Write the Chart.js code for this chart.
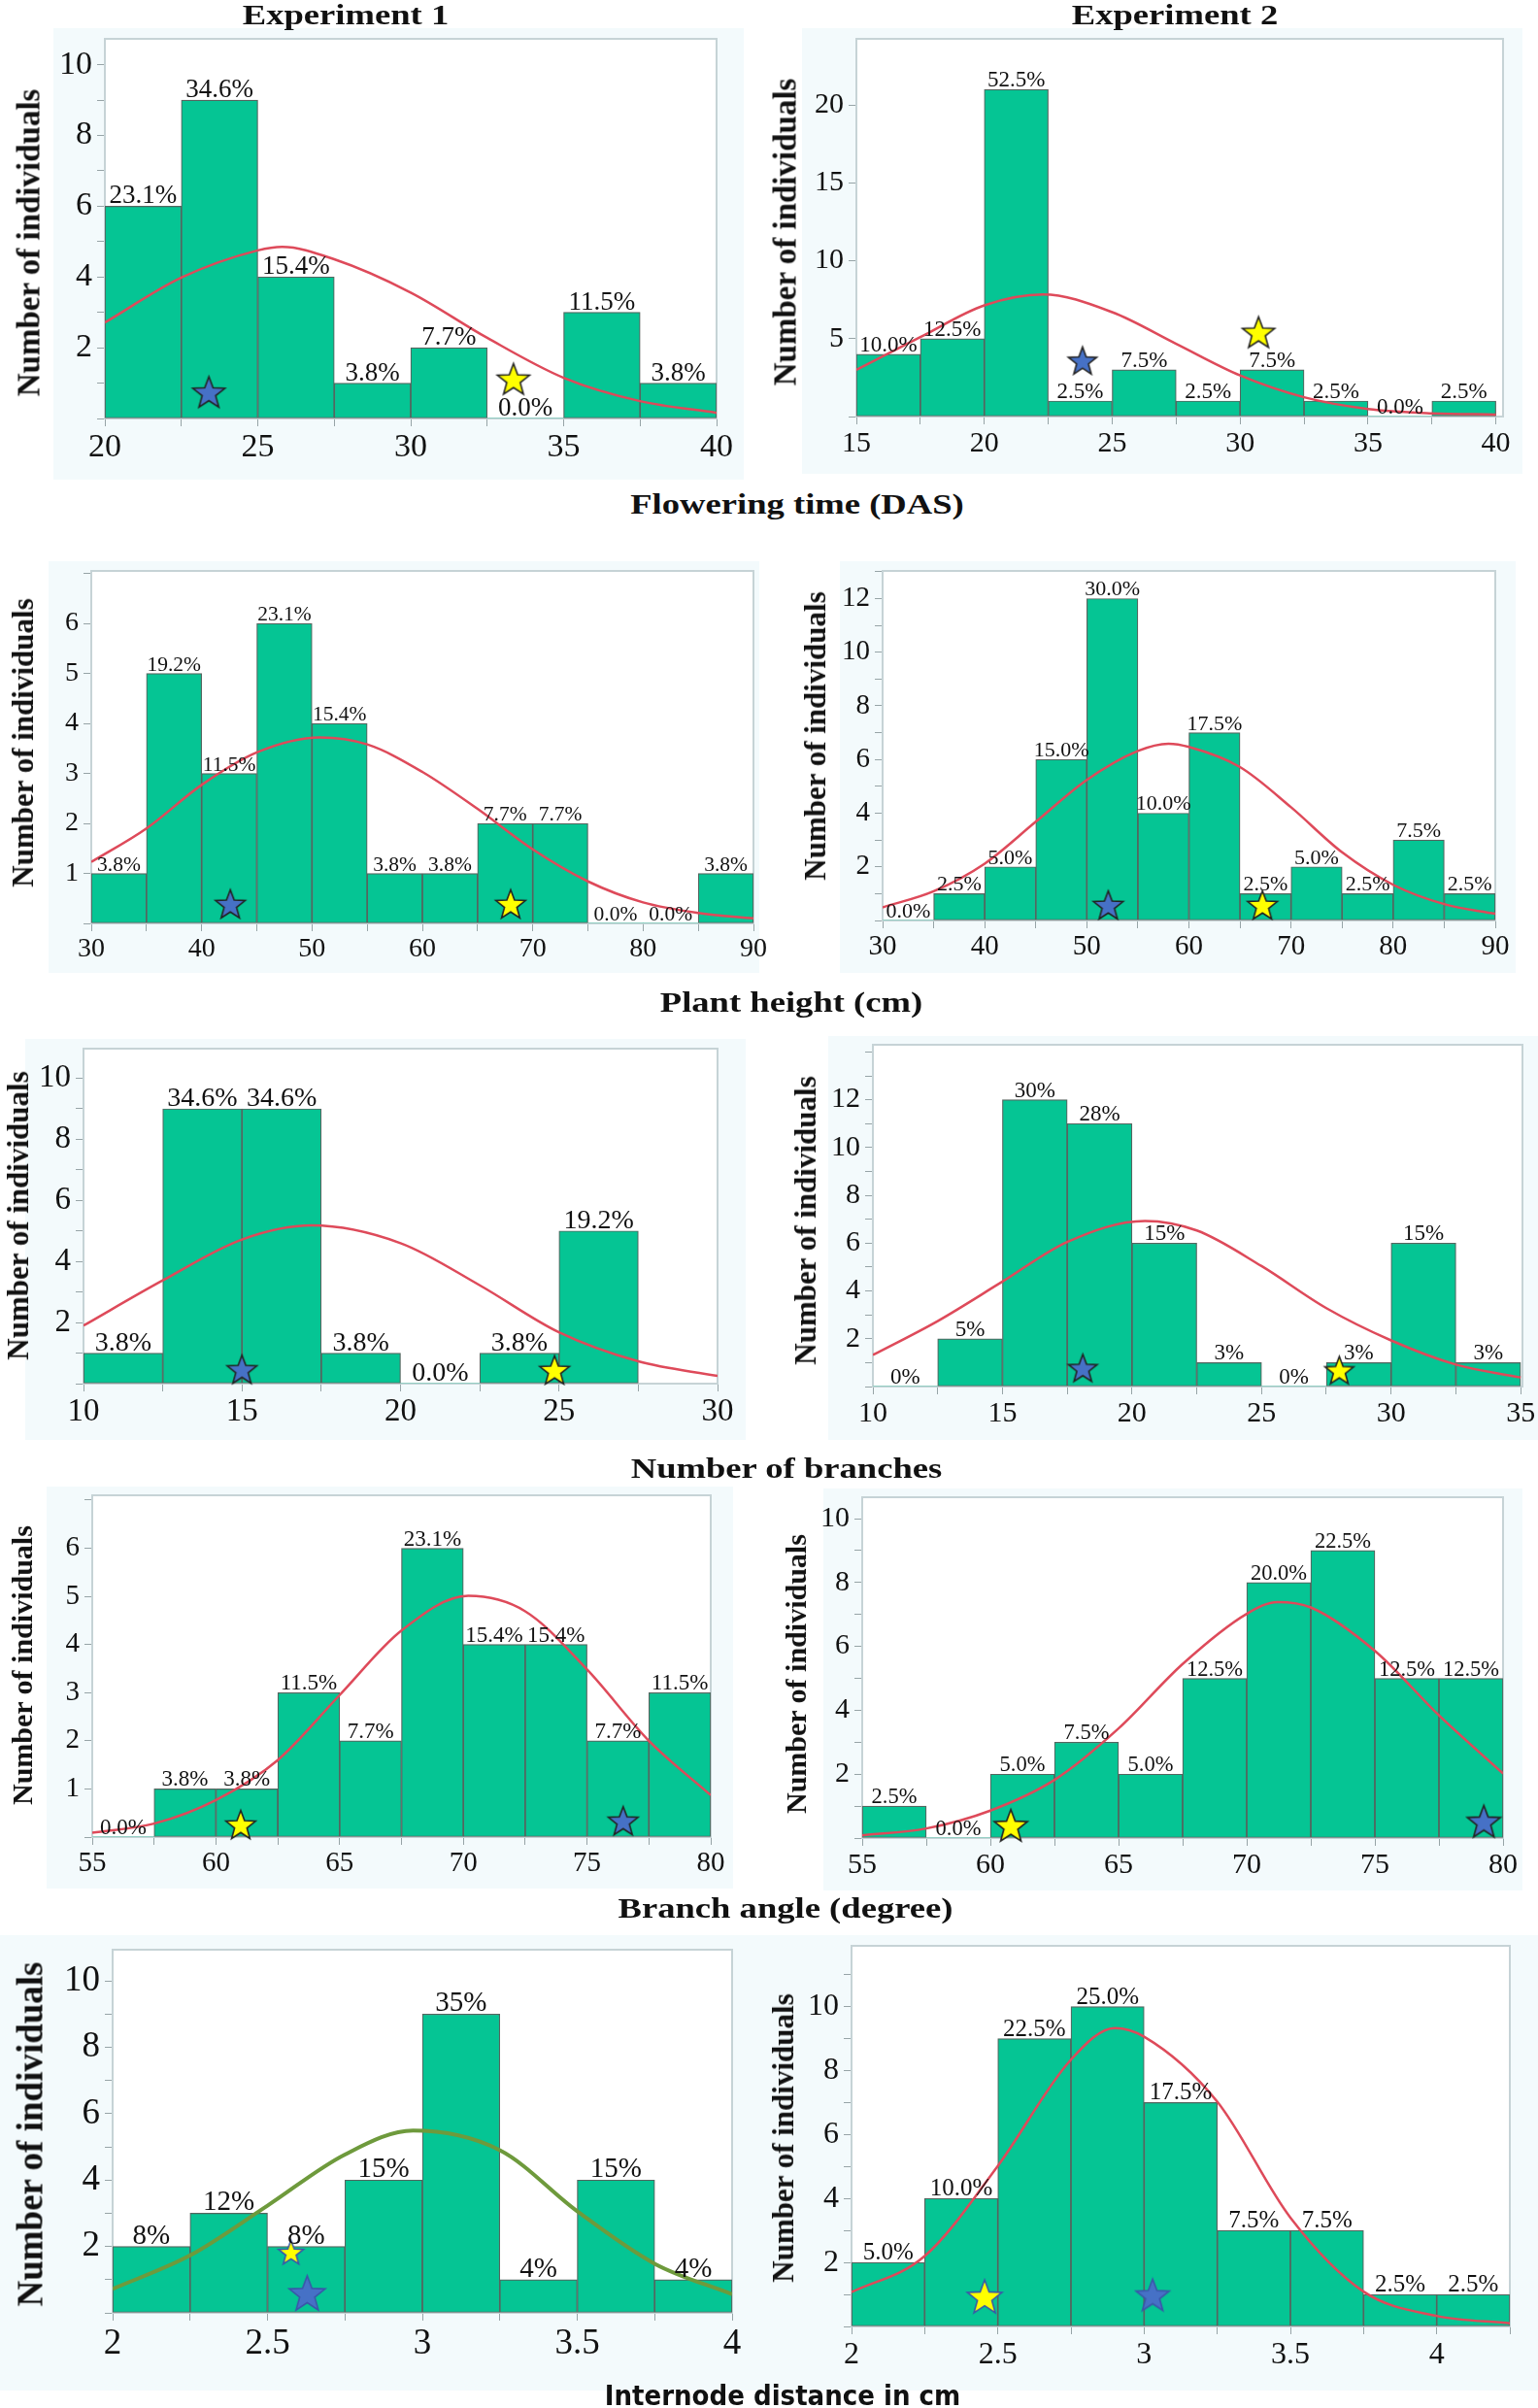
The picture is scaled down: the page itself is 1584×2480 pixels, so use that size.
<!DOCTYPE html>
<html>
<head>
<meta charset="utf-8">
<script src="https://cdn.jsdelivr.net/npm/chart.js@4.4.1/dist/chart.umd.min.js"></script>
<style>
  body { margin: 0; background: #fff; }
  #fig { position: relative; width: 1584px; height: 2480px; overflow: hidden; }
  .bg { position: absolute; background: #f3fafc; }
  .cv { position: absolute; }
  .ytitle { position: absolute; font-family: 'Liberation Serif', serif; font-weight: bold; white-space: nowrap;
            transform: translate(-50%, -50%) rotate(-90deg); color: #111; }
  .title { position: absolute; font-family: 'Liberation Serif', serif; font-weight: bold; white-space: nowrap;
           transform: translate(-50%, -50%) scaleX(1.22); color: #111; font-size: 30px; }
  .sans { font-family: 'DejaVu Sans Condensed', 'DejaVu Sans', sans-serif; transform: translate(-50%, -50%); font-size: 29px; }
</style>
</head>
<body>
<div id="fig"></div>
<script>
// ---- data (bin centres, counts, % labels, fitted curve, stars [blue, yellow]) ----

// Flowering time (DAS), experiment 1
const flowerBins1 = [21.25, 23.75, 26.25, 28.75, 31.25, 33.75, 36.25, 38.75];
const flowerCounts1 = [6, 9, 4, 1, 2, 0, 3, 1];
const flowerPct1 = ['23.1%', '34.6%', '15.4%', '3.8%', '7.7%', '0.0%', '11.5%', '3.8%'];
const flowerCurveX1 = [20, 22.5, 25, 25.8, 27.5, 30, 32.5, 35, 37.5, 40];
const flowerCurveY1 = [2.71, 3.98, 4.75, 4.85, 4.5, 3.56, 2.28, 1.15, 0.49, 0.16];
const flowerStars1 = [[23.4, 0.75], [33.36, 1.12]];

// Flowering time (DAS), experiment 2
const flowerBins2 = [16.25, 18.75, 21.25, 23.75, 26.25, 28.75, 31.25, 33.75, 36.25, 38.75];
const flowerCounts2 = [4, 5, 21, 1, 3, 1, 3, 1, 0, 1];
const flowerPct2 = ['10.0%', '12.5%', '52.5%', '2.5%', '7.5%', '2.5%', '7.5%', '2.5%', '0.0%', '2.5%'];
const flowerCurveX2 = [15, 17.5, 20, 22.3, 25, 27.5, 30, 32.5, 35, 37.5, 40];
const flowerCurveY2 = [3.0, 5.1, 7.14, 7.84, 6.7, 4.67, 2.64, 1.24, 0.49, 0.21, 0.13];
const flowerStars2 = [[23.84, 3.6], [30.72, 5.42]];

// Plant height (cm), experiment 1
const heightBins1 = [32.5, 37.5, 42.5, 47.5, 52.5, 57.5, 62.5, 67.5, 72.5, 77.5, 82.5, 87.5];
const heightCounts1 = [1, 5, 3, 6, 4, 1, 1, 2, 2, 0, 0, 1];
const heightPct1 = ['3.8%', '19.2%', '11.5%', '23.1%', '15.4%', '3.8%', '3.8%', '7.7%', '7.7%', '0.0%', '0.0%', '3.8%'];
const heightCurveX1 = [30, 35, 40, 45, 50.7, 55, 60, 65, 70, 75, 80, 85, 90];
const heightCurveY1 = [1.23, 1.9, 2.77, 3.42, 3.72, 3.58, 3.03, 2.29, 1.48, 0.84, 0.42, 0.21, 0.1];
const heightStars1 = [[42.6, 0.39], [68.0, 0.39]];

// Plant height (cm), experiment 2
const heightBins2 = [32.5, 37.5, 42.5, 47.5, 52.5, 57.5, 62.5, 67.5, 72.5, 77.5, 82.5, 87.5];
const heightCounts2 = [0, 1, 2, 6, 12, 4, 7, 1, 2, 1, 3, 1];
const heightPct2 = ['0.0%', '2.5%', '5.0%', '15.0%', '30.0%', '10.0%', '17.5%', '2.5%', '5.0%', '2.5%', '7.5%', '2.5%'];
const heightCurveX2 = [30, 35, 40, 45, 50, 55, 58, 60, 65, 70, 75, 80, 85, 90];
const heightCurveY2 = [0.49, 1.09, 2.12, 3.68, 5.24, 6.32, 6.59, 6.47, 5.72, 4.22, 2.54, 1.33, 0.61, 0.25];
const heightStars2 = [[52.1, 0.58], [67.2, 0.58]];

// Number of branches, experiment 1
const branchBins1 = [11.25, 13.75, 16.25, 18.75, 21.25, 23.75, 26.25];
const branchCounts1 = [1, 9, 9, 1, 0, 1, 5];
const branchPct1 = ['3.8%', '34.6%', '34.6%', '3.8%', '0.0%', '3.8%', '19.2%'];
const branchCurveX1 = [10, 12.5, 15, 17.2, 20, 22.5, 25, 27.5, 30];
const branchCurveY1 = [1.9, 3.38, 4.72, 5.18, 4.6, 3.22, 1.68, 0.73, 0.25];
const branchStars1 = [[15.0, 0.47], [24.86, 0.45]];

// Number of branches, experiment 2
const branchBins2 = [11.25, 13.75, 16.25, 18.75, 21.25, 23.75, 26.25, 28.75, 31.25, 33.75];
const branchCounts2 = [0, 2, 12, 11, 6, 1, 0, 1, 6, 1];
const branchPct2 = ['0%', '5%', '30%', '28%', '15%', '3%', '0%', '3%', '15%', '3%'];
const branchCurveX2 = [10, 12.5, 15, 17.5, 20.5, 22.5, 25, 27.5, 30, 32.5, 35];
const branchCurveY2 = [1.32, 2.74, 4.39, 6.05, 6.93, 6.53, 5.04, 3.28, 1.93, 0.92, 0.38];
const branchStars2 = [[18.1, 0.78], [28.0, 0.69]];

// Branch angle (degree), experiment 1
const angleBins1 = [56.25, 58.75, 61.25, 63.75, 66.25, 68.75, 71.25, 73.75, 76.25, 78.75];
const angleCounts1 = [0, 1, 1, 3, 2, 6, 4, 4, 2, 3];
const anglePct1 = ['0.0%', '3.8%', '3.8%', '11.5%', '7.7%', '23.1%', '15.4%', '15.4%', '7.7%', '11.5%'];
const angleCurveX1 = [55, 57.5, 60, 62.5, 65, 67.5, 70.2, 72.5, 75, 77.5, 80];
const angleCurveY1 = [0.09, 0.28, 0.77, 1.6, 2.95, 4.29, 5.01, 4.69, 3.48, 2.0, 0.87];
const angleStars1 = [[76.46, 0.34], [61.0, 0.26]];

// Branch angle (degree), experiment 2
const angleBins2 = [56.25, 58.75, 61.25, 63.75, 66.25, 68.75, 71.25, 73.75, 76.25, 78.75];
const angleCounts2 = [1, 0, 2, 3, 2, 5, 8, 9, 5, 5];
const anglePct2 = ['2.5%', '0.0%', '5.0%', '7.5%', '5.0%', '12.5%', '20.0%', '22.5%', '12.5%', '12.5%'];
const angleCurveX2 = [55, 57.5, 60, 62.5, 65, 67.5, 70, 71.2, 72.5, 75, 77.5, 80];
const angleCurveY2 = [0.08, 0.3, 0.86, 1.82, 3.43, 5.45, 7.02, 7.39, 7.22, 5.86, 3.84, 2.02];
const angleStars2 = [[79.25, 0.53], [60.8, 0.4]];

// Internode distance in cm, experiment 1
const nodeBins1 = [2.125, 2.375, 2.625, 2.875, 3.125, 3.375, 3.625, 3.875];
const nodeCounts1 = [2, 3, 2, 4, 9, 1, 4, 1];
const nodePct1 = ['8%', '12%', '8%', '15%', '35%', '4%', '15%', '4%'];
const nodeCurveX1 = [2, 2.25, 2.5, 2.75, 2.97, 3.25, 3.5, 3.75, 4];
const nodeCurveY1 = [0.72, 1.73, 3.23, 4.77, 5.49, 4.9, 3.06, 1.48, 0.56];
const nodeStars1 = [[2.628, 0.6], [2.576, 1.83]];

// Internode distance in cm, experiment 2
const nodeBins2 = [2.125, 2.375, 2.625, 2.875, 3.125, 3.375, 3.625, 3.875, 4.125];
const nodeCounts2 = [2, 4, 9, 10, 7, 3, 3, 1, 1];
const nodePct2 = ['5.0%', '10.0%', '22.5%', '25.0%', '17.5%', '7.5%', '7.5%', '2.5%', '2.5%'];
const nodeCurveX2 = [2, 2.25, 2.5, 2.75, 2.9, 3.0, 3.25, 3.5, 3.75, 4, 4.25];
const nodeCurveY2 = [1.07, 2.2, 5.02, 8.34, 9.33, 9.06, 7.03, 3.4, 1.09, 0.33, 0.1];
const nodeStars2 = [[3.029, 0.99], [2.455, 0.94]];

// ---- layout ----
const panels = [
  { bins: flowerBins1, counts: flowerCounts1, pct: flowerPct1, cx: flowerCurveX1, cy: flowerCurveY1, stars: flowerStars1,
    box: { l: 108, r: 738, t: 39, b: 431 }, xr: [20, 40], ymax: 10.73, xStep: 2.5, xLab: 5, yStep: 1, yLab: 2, yLabMax: 10,
    tick: 34, pctSize: 27, yt: [30, 250, 33], starR: [17.4, 17.4], bg: [55, 29, 711, 465] },
  { bins: flowerBins2, counts: flowerCounts2, pct: flowerPct2, cx: flowerCurveX2, cy: flowerCurveY2, stars: flowerStars2,
    box: { l: 882, r: 1548, t: 39, b: 429 }, xr: [15, 40.28], ymax: 24.25, xStep: 2.5, xLab: 5, yStep: 5, yLab: 5, yLabMax: 20,
    tick: 30, pctSize: 23, yt: [809, 239, 33], starR: [15.3, 17.4], bg: [826, 29, 742, 459] },
  { bins: heightBins1, counts: heightCounts1, pct: heightPct1, cx: heightCurveX1, cy: heightCurveY1, stars: heightStars1,
    box: { l: 94, r: 776, t: 587, b: 951 }, xr: [30, 90], ymax: 7.05, xStep: 5, xLab: 10, yStep: 1, yLab: 1, yLabMax: 6,
    tick: 28, pctSize: 21.5, yt: [24, 765, 31], starR: [16, 16], bg: [50, 578, 732, 424] },
  { bins: heightBins2, counts: heightCounts2, pct: heightPct2, cx: heightCurveX2, cy: heightCurveY2, stars: heightStars2,
    box: { l: 909, r: 1540, t: 587, b: 948 }, xr: [30, 90], ymax: 13.03, xStep: 5, xLab: 10, yStep: 1, yLab: 2, yLabMax: 12,
    tick: 29, pctSize: 22, yt: [840, 758, 31], starR: [16, 16], bg: [865, 578, 696, 424] },
  { bins: branchBins1, counts: branchCounts1, pct: branchPct1, cx: branchCurveX1, cy: branchCurveY1, stars: branchStars1,
    box: { l: 86, r: 739, t: 1079, b: 1424.5 }, xr: [10, 30], ymax: 10.97, xStep: 2.5, xLab: 5, yStep: 1, yLab: 2, yLabMax: 10,
    tick: 33, pctSize: 28, yt: [19, 1252, 31], starR: [16, 16], bg: [26, 1070, 742, 413] },
  { bins: branchBins2, counts: branchCounts2, pct: branchPct2, cx: branchCurveX2, cy: branchCurveY2, stars: branchStars2,
    box: { l: 899, r: 1568, t: 1075, b: 1428 }, xr: [10, 35.07], ymax: 14.3, xStep: 2.5, xLab: 5, yStep: 1, yLab: 2, yLabMax: 12,
    tick: 30, pctSize: 23, yt: [830, 1257, 31], starR: [15.5, 15.5], bg: [853, 1067, 731, 416] },
  { bins: angleBins1, counts: angleCounts1, pct: anglePct1, cx: angleCurveX1, cy: angleCurveY1, stars: angleStars1,
    box: { l: 95, r: 732, t: 1539, b: 1892 }, xr: [55, 80], ymax: 7.1, xStep: 2.5, xLab: 5, yStep: 1, yLab: 1, yLabMax: 6,
    tick: 29, pctSize: 23, yt: [23, 1715, 30], starR: [16, 16], bg: [48, 1531, 707, 414] },
  { bins: angleBins2, counts: angleCounts2, pct: anglePct2, cx: angleCurveX2, cy: angleCurveY2, stars: angleStars2,
    box: { l: 888, r: 1548, t: 1541, b: 1893 }, xr: [55, 80], ymax: 10.67, xStep: 2.5, xLab: 5, yStep: 1, yLab: 2, yLabMax: 10,
    tick: 30, pctSize: 22.5, yt: [820, 1724, 30], starR: [17.9, 17.9], bg: [848, 1533, 720, 414] },
  { bins: nodeBins1, counts: nodeCounts1, pct: nodePct1, cx: nodeCurveX1, cy: nodeCurveY1, stars: nodeStars1,
    box: { l: 116, r: 754, t: 2007, b: 2382 }, xr: [2, 4], ymax: 10.94, xStep: 0.25, xLab: 0.5, yStep: 1, yLab: 2, yLabMax: 10,
    tick: 37, pctSize: 29, yt: [31, 2198, 37], starR: [19.5, 13.5], starLine: '#3a57a8',
    curveColor: '#6e9a3c', curveWidth: 4, bg: [0, 1993, 1584, 469] },
  { bins: nodeBins2, counts: nodeCounts2, pct: nodePct2, cx: nodeCurveX2, cy: nodeCurveY2, stars: nodeStars2,
    box: { l: 877, r: 1555, t: 2003, b: 2396 }, xr: [2, 4.25], ymax: 11.9, xStep: 0.25, xLab: 0.5, yStep: 1, yLab: 2, yLabMax: 10,
    tick: 32, pctSize: 25, yt: [807, 2202, 31], starR: [18, 18.7], starLine: '#3a57a8' }
];

const titles = [
  ['Experiment 1', 356, 15, ''], ['Experiment 2', 1210, 15, ''],
  ['Flowering time (DAS)', 821, 519, ''], ['Plant height (cm)', 815, 1032, ''],
  ['Number of branches', 810, 1512, ''], ['Branch angle (degree)', 809, 1965, ''],
  ['Internode distance in cm', 806, 2467, 'sans']
];

const SERIF = 'Liberation Serif';
Chart.defaults.font.family = SERIF;
Chart.defaults.color = '#111';

const fig = document.getElementById('fig');

function starImage(fill, stroke, r) {
  const c = document.createElement('canvas');
  const s = Math.ceil(r * 2 + 6);
  c.width = s; c.height = s;
  const g = c.getContext('2d');
  const cy = s / 2 + r * 0.095;
  g.beginPath();
  for (let i = 0; i < 10; i++) {
    const rad = i % 2 ? r * 0.42 : r;
    const a = -Math.PI / 2 + i * Math.PI / 5;
    g.lineTo(s / 2 + rad * Math.cos(a), cy + rad * Math.sin(a));
  }
  g.closePath();
  g.fillStyle = fill;
  g.fill();
  g.lineWidth = 1.6;
  g.strokeStyle = stroke;
  g.stroke();
  return c;
}

function isMult(v, step) {
  return Math.abs(v / step - Math.round(v / step)) < 1e-6;
}

const framePlugin = {
  id: 'frame',
  beforeDraw(chart) {
    const { ctx, chartArea: a } = chart;
    ctx.save();
    ctx.fillStyle = '#ffffff';
    ctx.fillRect(a.left, a.top, a.right - a.left, a.bottom - a.top);
    ctx.restore();
  },
  beforeDatasetsDraw(chart) {
    const { ctx, chartArea: a } = chart;
    ctx.save();
    ctx.strokeStyle = '#c6d3d6';
    ctx.lineWidth = 2;
    ctx.strokeRect(a.left, a.top, a.right - a.left, a.bottom - a.top);
    ctx.restore();
  }
};

const pctPlugin = {
  id: 'pct',
  afterDatasetsDraw(chart, args, opts) {
    const ctx = chart.ctx;
    const meta = chart.getDatasetMeta(0);
    ctx.save();
    ctx.font = opts.size + 'px "' + SERIF + '"';
    ctx.fillStyle = '#111';
    ctx.textAlign = 'center';
    ctx.textBaseline = 'alphabetic';
    meta.data.forEach((bar, i) => {
      ctx.fillText(opts.labels[i], bar.x, bar.y - 3);
    });
    ctx.restore();
  }
};

function addDiv(cls, text, x, y, size) {
  const d = document.createElement('div');
  d.className = cls;
  d.textContent = text;
  d.style.left = x + 'px';
  d.style.top = y + 'px';
  if (size) d.style.fontSize = size + 'px';
  fig.appendChild(d);
}

panels.forEach(p => {
  if (p.bg) {
    const b = document.createElement('div');
    b.className = 'bg';
    b.style.left = p.bg[0] + 'px'; b.style.top = p.bg[1] + 'px';
    b.style.width = p.bg[2] + 'px'; b.style.height = p.bg[3] + 'px';
    fig.appendChild(b);
  }
});

panels.forEach(p => {
  const padL = 110, padR = 32, padT = 12, padB = 70;
  const cv = document.createElement('canvas');
  cv.className = 'cv';
  const w = Math.round(p.box.r - p.box.l + padL + padR);
  const h = Math.round(p.box.b - p.box.t + padT + padB);
  cv.width = w; cv.height = h;
  cv.style.width = w + 'px'; cv.style.height = h + 'px';
  cv.style.left = (p.box.l - padL) + 'px';
  cv.style.top = (p.box.t - padT) + 'px';
  fig.appendChild(cv);

  const line = p.starLine || '#222';
  const blue = starImage('#4671c6', line, p.starR[0]);
  const yellow = starImage('#ffff00', line, p.starR[1]);
  const tickColor = '#97a4a7';

  new Chart(cv, {
    type: 'bar',
    data: {
      datasets: [
        {
          type: 'bar',
          data: p.bins.map((x, i) => ({ x: x, y: p.counts[i] })),
          backgroundColor: '#05c594',
          borderColor: '#55655f',
          borderWidth: c => (c.raw && c.raw.y > 0 ? 1.2 : 0),
          barPercentage: 1,
          categoryPercentage: 1,
          borderSkipped: false,
          order: 3
        },
        {
          type: 'line',
          data: p.cx.map((x, i) => ({ x: x, y: p.cy[i] })),
          borderColor: p.curveColor || '#de4a5a',
          borderWidth: p.curveWidth || 2.5,
          pointRadius: 0,
          pointHoverRadius: 0,
          cubicInterpolationMode: 'monotone',
          fill: false,
          order: 2
        },
        {
          type: 'scatter',
          data: p.stars.map(s => ({ x: s[0], y: s[1] })),
          pointStyle: [blue, yellow],
          pointRadius: 12,
          clip: false,
          order: 1
        }
      ]
    },
    options: {
      responsive: false,
      animation: false,
      events: [],
      layout: { padding: { left: 0, right: padR, top: padT, bottom: 0 } },
      plugins: {
        legend: { display: false },
        tooltip: { enabled: false },
        pct: { labels: p.pct, size: p.pctSize }
      },
      scales: {
        x: {
          type: 'linear',
          min: p.xr[0],
          max: p.xr[1],
          offset: false,
          border: { display: false },
          grid: { offset: false, drawOnChartArea: false, drawTicks: true, tickLength: 8, color: tickColor },
          ticks: {
            stepSize: p.xStep, autoSkip: false, maxRotation: 0, includeBounds: false, padding: 2,
            color: '#111', font: { family: SERIF, size: p.tick },
            callback: v => (isMult(v, p.xLab) ? String(Number(v.toFixed(2))) : '')
          },
          afterFit: s => { s.height = padB; s.paddingLeft = 0; s.paddingRight = 0; }
        },
        y: {
          type: 'linear',
          min: 0,
          max: p.ymax,
          border: { display: false },
          grid: { drawOnChartArea: false, drawTicks: true, tickLength: 8, color: tickColor },
          ticks: {
            stepSize: p.yStep, autoSkip: false, includeBounds: false, padding: 5,
            color: '#111', font: { family: SERIF, size: p.tick },
            callback: v => (v > 0 && v <= p.yLabMax && isMult(v, p.yLab) ? String(v) : '')
          },
          afterFit: s => { s.width = padL; s.paddingTop = 0; s.paddingBottom = 0; }
        }
      }
    },
    plugins: [framePlugin, pctPlugin]
  });

  addDiv('ytitle', 'Number of individuals', p.yt[0], p.yt[1], p.yt[2]);
});

titles.forEach(t => addDiv(t[3] ? 'title sans' : 'title', t[0], t[1], t[2]));
</script>
</body>
</html>
